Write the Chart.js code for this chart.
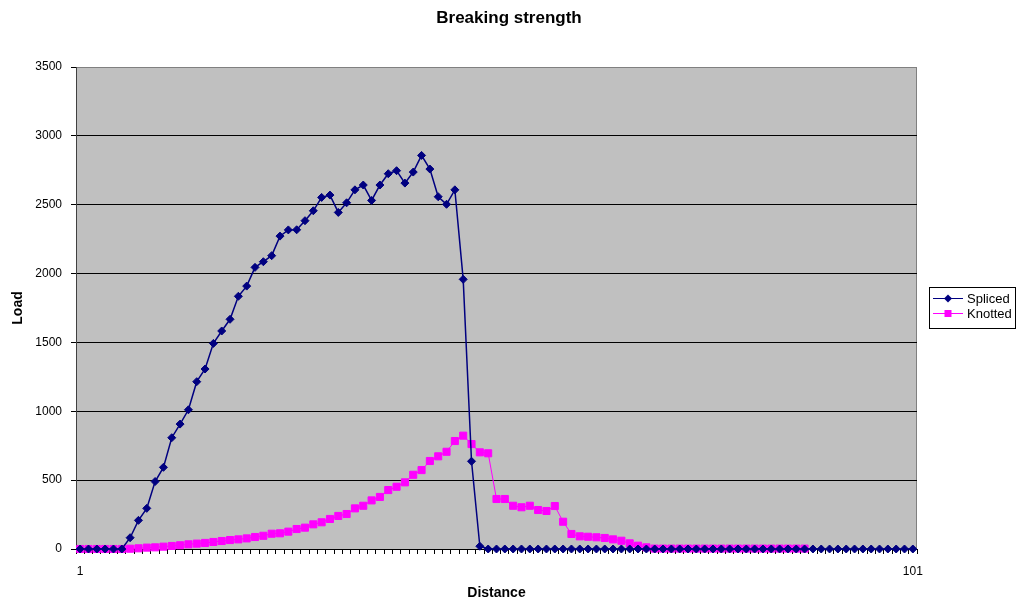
<!DOCTYPE html>
<html>
<head>
<meta charset="utf-8">
<script src="https://cdn.jsdelivr.net/npm/chart.js@4/dist/chart.umd.min.js"></script>
<style>
  html, body { margin: 0; padding: 0; background: #ffffff; }
  #wrap { width: 1018px; height: 602px; }
</style>
</head>
<body>
<div id="wrap"><canvas id="c" width="1018" height="602"></canvas></div>
<script>
// ---- data ----
const categories = ['1','2','3','4','5','6','7','8','9','10','11','12','13','14','15','16','17','18','19','20',
  '21','22','23','24','25','26','27','28','29','30','31','32','33','34','35','36','37','38','39','40',
  '41','42','43','44','45','46','47','48','49','50','51','52','53','54','55','56','57','58','59','60',
  '61','62','63','64','65','66','67','68','69','70','71','72','73','74','75','76','77','78','79','80',
  '81','82','83','84','85','86','87','88','89','90','91','92','93','94','95','96','97','98','99','100','101'];

const xTickLabels = ['1', '101'];
const yTicks = [0, 500, 1000, 1500, 2000, 2500, 3000, 3500];

const spliced = [
  0, 0, 0, 0, 0, 0,
  82, 208, 295, 490, 593, 808, 907, 1011, 1215, 1307,
  1493, 1583, 1668, 1835, 1909, 2045, 2086, 2130, 2272, 2317,
  2318, 2384, 2456, 2553, 2570, 2444, 2514, 2608, 2643, 2531,
  2643, 2725, 2747, 2657, 2737, 2858, 2759, 2558, 2503, 2608,
  1958, 637, 20,
  0, 0, 0, 0, 0, 0, 0, 0, 0, 0,
  0, 0, 0, 0, 0, 0, 0, 0, 0, 0,
  0, 0, 0, 0, 0, 0, 0, 0, 0, 0,
  0, 0, 0, 0, 0, 0, 0, 0, 0, 0,
  0, 0, 0, 0, 0, 0, 0, 0, 0, 0,
  0, 0
];

const knotted = [
  0, 0, 0, 0, 0, 0,
  2, 5, 10, 12, 17, 22, 27, 34, 39, 44,
  51, 58, 65, 70, 77, 87, 96, 111, 114, 126,
  145, 155, 179, 194, 218, 240, 254, 295, 314, 353,
  378, 428, 452, 484, 539, 573, 639, 673, 706, 784,
  823, 762, 702, 695, 363, 363, 314, 303, 314, 283,
  276, 312, 198, 109, 92, 89, 85, 80, 70, 60,
  41, 24, 12,
  3, 3, 3, 3, 3, 3, 3, 3, 3, 3,
  3, 3, 3, 3, 3, 3, 3, 3, 3
];

const FONT = "'Liberation Sans', Arial, Helvetica, sans-serif";

// plot-area background and border
const plotBg = {
  id: 'plotBg',
  beforeDraw(chart) {
    const a = chart.chartArea, ctx = chart.ctx;
    ctx.save();
    ctx.fillStyle = '#C0C0C0';
    ctx.fillRect(a.left, a.top, a.right - a.left, a.bottom - a.top);
    ctx.strokeStyle = '#808080';
    ctx.lineWidth = 1;
    ctx.strokeRect(Math.round(a.left) + 0.5, Math.round(a.top) + 0.5,
                   Math.round(a.right - a.left) - 1, Math.round(a.bottom - a.top));
    ctx.restore();
  }
};

// boxed legend at right
const boxLegend = {
  id: 'boxLegend',
  afterDraw(chart) {
    const ctx = chart.ctx;
    const bx = 929.5, by = 287.5, bw = 86, bh = 41;
    ctx.save();
    ctx.fillStyle = '#ffffff';
    ctx.fillRect(bx, by, bw, bh);
    ctx.strokeStyle = '#000000';
    ctx.lineWidth = 1;
    ctx.strokeRect(bx, by, bw, bh);
    chart.data.datasets.forEach((ds, i) => {
      const y = 298.5 + i * 15;
      ctx.strokeStyle = ds.borderColor;
      ctx.lineWidth = 1;
      ctx.beginPath();
      ctx.moveTo(933, y);
      ctx.lineTo(963, y);
      ctx.stroke();
      ctx.fillStyle = ds.backgroundColor;
      ctx.beginPath();
      if (ds.pointStyle === 'rectRot') {
        const r = 4;
        ctx.moveTo(948, y - r);
        ctx.lineTo(948 + r, y);
        ctx.lineTo(948, y + r);
        ctx.lineTo(948 - r, y);
        ctx.closePath();
      } else {
        ctx.rect(944.5, y - 3.5, 7, 7);
      }
      ctx.fill();
      ctx.fillStyle = '#000000';
      ctx.font = '13px ' + FONT;
      ctx.textAlign = 'left';
      ctx.textBaseline = 'middle';
      ctx.fillText(ds.label, 967, y + 0.5);
    });
    ctx.restore();
  }
};

new Chart(document.getElementById('c'), {
  type: 'line',
  data: {
    labels: categories,
    datasets: [
      {
        label: 'Spliced',
        data: spliced,
        borderColor: '#000080',
        backgroundColor: '#000080',
        borderWidth: 1.5,
        pointStyle: 'rectRot',
        pointRadius: 4,
        pointBorderWidth: 1,
        pointBackgroundColor: '#000080',
        pointBorderColor: '#000080',
        tension: 0,
        clip: false
      },
      {
        label: 'Knotted',
        data: knotted,
        borderColor: '#FF00FF',
        backgroundColor: '#FF00FF',
        borderWidth: 1,
        pointStyle: 'rect',
        pointRadius: 5,
        pointBorderWidth: 1,
        pointBackgroundColor: '#FF00FF',
        pointBorderColor: '#FF00FF',
        tension: 0,
        clip: false
      }
    ]
  },
  options: {
    responsive: false,
    animation: false,
    layout: { padding: 0 },
    plugins: {
      legend: { display: false },
      tooltip: { enabled: false },
      title: {
        display: true,
        text: 'Breaking strength',
        color: '#000000',
        font: { family: FONT, size: 17, weight: 'bold', lineHeight: 1.2 },
        padding: { top: 8, bottom: 38.6 }
      }
    },
    scales: {
      x: {
        type: 'category',
        offset: true,
        grid: {
          offset: true,
          drawOnChartArea: false,
          drawTicks: true,
          tickLength: 5,
          tickColor: '#000000',
          color: '#000000'
        },
        border: { display: true, color: '#000000', width: 1 },
        ticks: {
          autoSkip: false,
          maxRotation: 0,
          minRotation: 0,
          padding: 10,
          color: '#000000',
          font: { family: FONT, size: 12 },
          callback: function (value, index) {
            const lab = this.getLabelForValue(value);
            return xTickLabels.includes(lab) ? lab : '';
          }
        },
        title: {
          display: true,
          text: 'Distance',
          color: '#000000',
          font: { family: FONT, size: 14, weight: 'bold', lineHeight: 1.2 },
          padding: { top: 0, bottom: 0 }
        },
        afterFit: (scale) => { scale.height = 53; }
      },
      y: {
        min: 0,
        max: 3500,
        afterBuildTicks: (scale) => { scale.ticks = yTicks.map(v => ({ value: v })); },
        grid: {
          drawOnChartArea: true,
          drawTicks: true,
          tickLength: 5,
          tickColor: '#000000',
          color: (c) => (c.tick && c.tick.value === 3500) ? '#808080' : '#000000',
          lineWidth: 1
        },
        border: { display: true, color: '#404040', width: 1 },
        ticks: {
          padding: 9,
          color: '#000000',
          font: { family: FONT, size: 12 },
          callback: (v) => String(v)
        },
        title: {
          display: true,
          text: 'Load',
          color: '#000000',
          font: { family: FONT, size: 14, weight: 'bold', lineHeight: 1.2 },
          padding: { top: 10, bottom: 0 }
        },
        afterFit: (scale) => { scale.width = 76; }
      },
      legendSpace: {
        type: 'linear',
        position: 'right',
        display: true,
        grid: { display: false, drawOnChartArea: false, drawTicks: false },
        border: { display: false },
        ticks: { display: false },
        title: { display: false },
        afterFit: (scale) => { scale.width = 101; }
      }
    }
  },
  plugins: [plotBg, boxLegend]
});
</script>
</body>
</html>
